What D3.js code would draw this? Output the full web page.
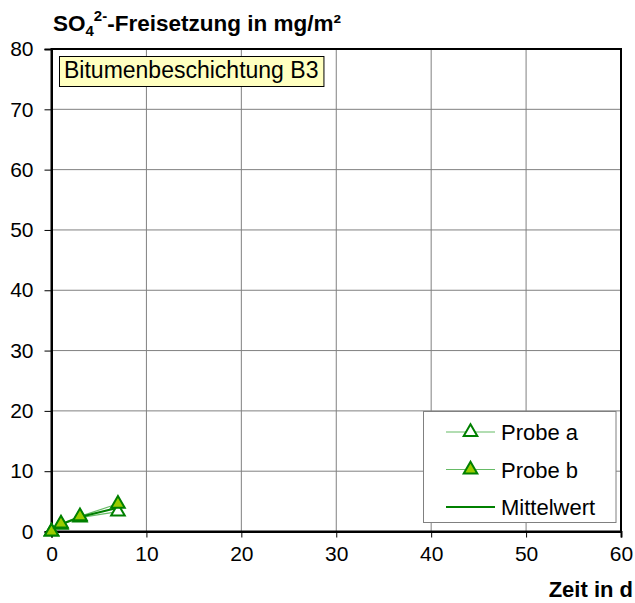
<!DOCTYPE html>
<html>
<head>
<meta charset="utf-8">
<script src="https://cdn.jsdelivr.net/npm/d3@7"></script>
<style>
  html, body { margin: 0; padding: 0; background: #fff; }
  svg { display: block; font-family: "Liberation Sans", Arial, sans-serif; }
</style>
</head>
<body>
<svg id="chart" width="635" height="603"></svg>
<script>
// Sulfate release over time, bitumen coating B3
const days       = [0, 1, 3, 7];
const probeA     = [0, 1.1, 2.3, 3.3];
const probeB     = [0, 1.3, 2.5, 4.6];
const mittelwert = [0, 1.2, 2.4, 3.95];
const xTicks = [0, 10, 20, 30, 40, 50, 60];
const yTicks = [0, 10, 20, 30, 40, 50, 60, 70, 80];
const seriesNames = ["Probe a", "Probe b", "Mittelwert"];
const annotation = "Bitumenbeschichtung B3";

const svg = d3.select("#chart");
const plotL = 51.5, plotR = 621, plotT = 49, plotB = 531.5;
const tickFont = "21px";
const textFont = "22px";

const x = d3.scaleLinear().domain([0, 60]).range([plotL, plotR]);
const y = d3.scaleLinear().domain([0, 80]).range([plotB, plotT]);

// grid
const grid = svg.append("g");
grid.selectAll(".gx").data(xTicks.slice(1, -1)).join("line")
  .attr("x1", d => x(d)).attr("x2", d => x(d))
  .attr("y1", plotT).attr("y2", plotB)
  .attr("stroke", "#808080").attr("stroke-width", 1);
grid.selectAll(".gy").data(yTicks.slice(1, -1)).join("line")
  .attr("x1", plotL).attr("x2", plotR)
  .attr("y1", d => y(d)).attr("y2", d => y(d))
  .attr("stroke", "#808080").attr("stroke-width", 1);

// plot frame
svg.append("rect")
  .attr("x", plotL).attr("y", plotT)
  .attr("width", plotR - plotL).attr("height", plotB - plotT)
  .attr("fill", "none").attr("stroke", "#000").attr("stroke-width", 2);

// axes
const xAxis = d3.axisBottom(x).tickValues(xTicks).tickSize(6).tickPadding(9);
const yAxis = d3.axisLeft(y).tickValues(yTicks).tickSize(7).tickPadding(11);

const gx = svg.append("g").attr("transform", `translate(0,${plotB})`).call(xAxis);
const gy = svg.append("g").attr("transform", `translate(${plotL},0)`).call(yAxis);
[gx, gy].forEach(g => {
  g.select(".domain").attr("stroke", "#000").attr("stroke-width", 2);
  g.selectAll(".tick line").attr("stroke", "#000").attr("stroke-width", 1);
  g.selectAll(".tick text")
    .attr("fill", "#000")
    .style("font-size", tickFont)
    .style("font-family", "'Liberation Sans', Arial, sans-serif");
});

// titles
const title = svg.append("text")
  .attr("x", 53).attr("y", 31)
  .style("font-size", "22.5px").style("font-weight", "bold");
title.append("tspan").text("SO");
title.append("tspan").attr("dy", 5).style("font-size", "15px").text("4");
title.append("tspan").attr("dy", -15).style("font-size", "15px").text("2-");
title.append("tspan").attr("dy", 10).text("-Freisetzung in mg/m²");

svg.append("text")
  .attr("x", 633).attr("y", 597)
  .attr("text-anchor", "end")
  .style("font-size", "22px").style("font-weight", "bold")
  .text("Zeit in d");

// annotation box
const ann = svg.append("g");
const annText = ann.append("text")
  .attr("x", 64).attr("y", 78)
  .style("font-size", "23px")
  .text(annotation);
const bb = annText.node().getBBox();
ann.insert("rect", "text")
  .attr("x", 59.5).attr("y", 56.5)
  .attr("width", bb.width + 10).attr("height", 30)
  .attr("fill", "#ffffc0").attr("stroke", "#000").attr("stroke-width", 1);

// legend
const lg = svg.append("g");
lg.append("rect")
  .attr("x", 423.5).attr("y", 411.5)
  .attr("width", 192.5).attr("height", 111)
  .attr("fill", "#fff").attr("stroke", "#808080").attr("stroke-width", 1);

const lightGreen = "#66bb66";
const darkGreen = "#008000";
const triFill = "#99cc00";

const tri = d3.symbol().type(d3.symbolTriangle).size(80);

const legendRows = [
  { name: seriesNames[0], line: lightGreen, width: 1.2, marker: "#fff" },
  { name: seriesNames[1], line: lightGreen, width: 1.2, marker: triFill },
  { name: seriesNames[2], line: darkGreen, width: 2, marker: null }
];
legendRows.forEach((r, i) => {
  const cy = 432 + i * 37.5;
  lg.append("line")
    .attr("x1", 446).attr("x2", 495).attr("y1", cy).attr("y2", cy)
    .attr("stroke", r.line).attr("stroke-width", r.width);
  if (r.marker) {
    lg.append("path").attr("d", tri)
      .attr("transform", `translate(470.5,${cy})`)
      .attr("fill", r.marker).attr("stroke", darkGreen).attr("stroke-width", 2);
  }
  lg.append("text")
    .attr("x", 501).attr("y", cy + 8)
    .style("font-size", textFont)
    .text(r.name);
});

// data series
const line = d3.line().x(d => x(d[0])).y(d => y(d[1]));
const zip = vals => days.map((d, i) => [d, vals[i]]);

svg.append("path").datum(zip(probeA)).attr("d", line)
  .attr("fill", "none").attr("stroke", lightGreen).attr("stroke-width", 1.2);
svg.append("path").datum(zip(probeB)).attr("d", line)
  .attr("fill", "none").attr("stroke", lightGreen).attr("stroke-width", 1.2);
svg.append("path").datum(zip(mittelwert)).attr("d", line)
  .attr("fill", "none").attr("stroke", darkGreen).attr("stroke-width", 2);

svg.selectAll(".pa").data(zip(probeA)).join("path")
  .attr("d", tri)
  .attr("transform", d => `translate(${x(d[0])},${y(d[1])})`)
  .attr("fill", "#fff").attr("stroke", darkGreen).attr("stroke-width", 2);
svg.selectAll(".pb").data(zip(probeB)).join("path")
  .attr("d", tri)
  .attr("transform", d => `translate(${x(d[0])},${y(d[1])})`)
  .attr("fill", triFill).attr("stroke", darkGreen).attr("stroke-width", 2);
</script>
</body>
</html>
